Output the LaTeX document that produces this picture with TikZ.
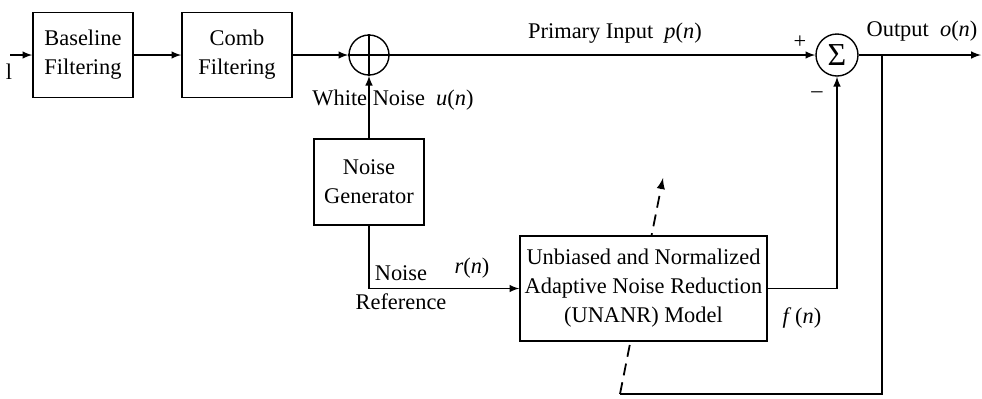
\documentclass[tikz,border=0pt]{standalone}
\usepackage{fontspec}
\setmainfont{Liberation Serif}
\usetikzlibrary{backgrounds}
\newcommand{\sig}[1]{\textit{#1}(\textit{n})}

\begin{document}
\begin{tikzpicture}[x=0.5pt,y=-0.5pt,>=latex,font=\fontsize{11.2}{14.5}\selectfont,
    line width=0.7pt,
    block/.style={draw,fill=white,align=center,inner sep=0pt},
    junction/.style={draw,circle,fill=white,inner sep=0pt}]
        \useasboundingbox (0,0) rectangle (982,398);
        \def\ymain{55}
        \def\yfb{394}

        % forward path
        \coordinate (in) at (10,\ymain);
        \node[block,minimum width=50pt,minimum height=42.5pt] (base) at (83,\ymain) {Baseline\\Filtering};
        \node[block,minimum width=55pt,minimum height=42.5pt] (comb) at (237,\ymain) {Comb\\Filtering};
        \node[junction,minimum size=20pt] (add) at (369,\ymain) {};
        \draw (add.north) -- (add.south);
        \draw (add.west) -- (add.east);
        \node[junction,minimum size=21pt,font=\fontsize{16}{16}\selectfont] (sum) at (837,\ymain) {Σ};
        \coordinate (out) at (981,\ymain);
        \coordinate (tap) at (882,\ymain);

        % noise branch
        \node[block,minimum width=55pt,minimum height=43pt] (noise) at (369,182) {Noise\\Generator};
        \node[block,minimum width=123.5pt,minimum height=52.5pt] (unanr) at (643.5,288.5)
            {Unbiased and Normalized\\Adaptive Noise Reduction\\(UNANR) Model};

        % feedback
        \coordinate (corner) at (882,\yfb);
        \coordinate (fb) at (620,\yfb);
        \coordinate (tip) at (663,178);
        \begin{scope}[on background layer]
            \draw[->,line width=0.9pt,dash pattern=on 6pt off 3.5pt] (fb) -- (tip);
        \end{scope}

        \draw[->] (in) -- (base);
        \draw[->] (base) -- (comb);
        \draw[->] (comb) -- (add);
        \draw[->] (add) -- (sum);
        \draw[->] (sum) -- (out);
        \draw[->] (noise) -- (add);
        \draw[->] (noise) |- (unanr);
        \draw[->] (unanr) -| (sum);
        \draw (tap) -- (corner) -- (fb);

        % labels
        \node (lfrag) at (9,72) {l};
        \node (lprim) at (615,33) {Primary Input\ \ \sig{p}};
        \node (lplus) at (800,42) {+};
        \node (lminus) at (817,95) {–};
        \node (lout) at (922,31) {Output\ \ \sig{o}};
        \node (lwhite) at (393,100) {White Noise\ \ \sig{u}};
        \node[align=center] (lref) at (401,288) {Noise\\Reference};
        \node (lr) at (472,268) {\sig{r}};
        \node (lf) at (802,318) {\textit{f}\,(\textit{n})};
\end{tikzpicture}
\end{document}
